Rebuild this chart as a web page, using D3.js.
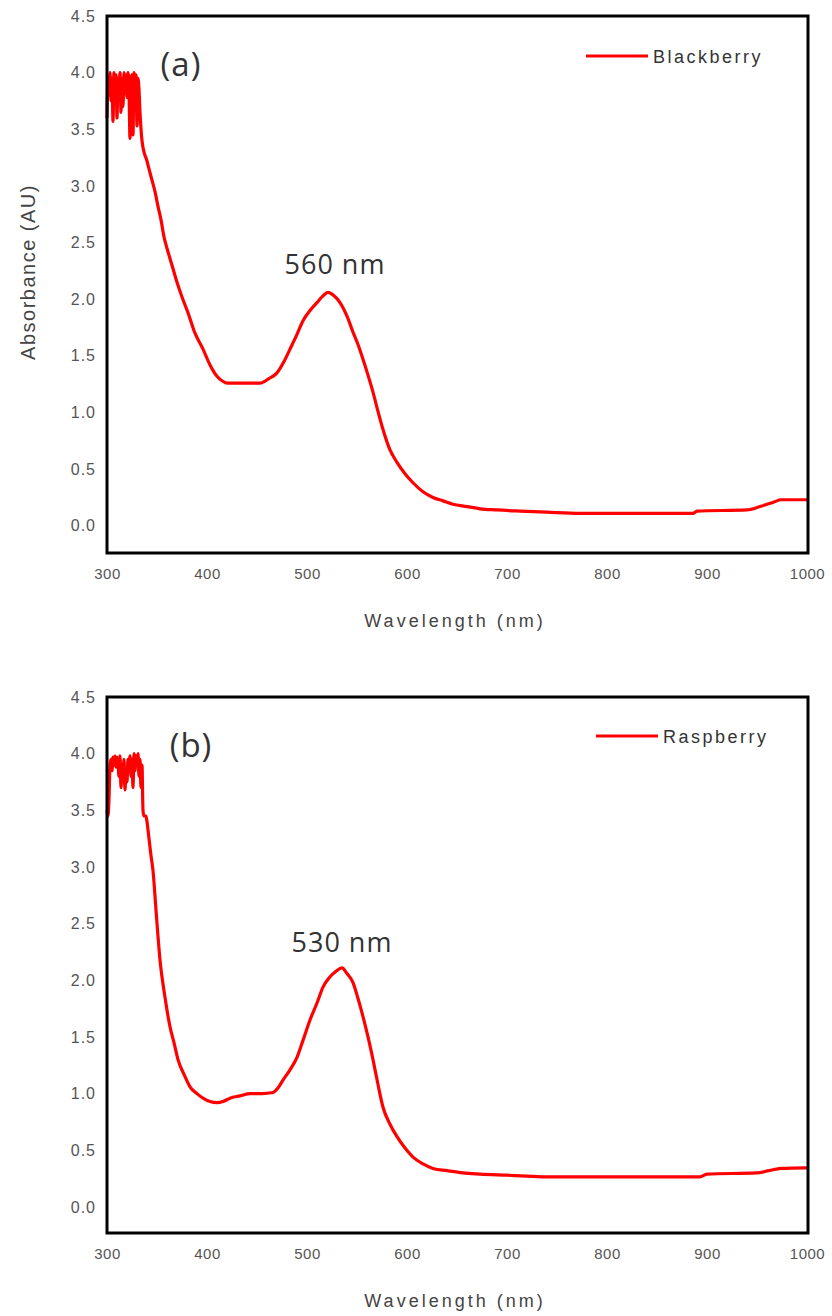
<!DOCTYPE html>
<html><head><meta charset="utf-8">
<script src="https://cdn.jsdelivr.net/npm/d3@7"></script>
<style>body{margin:0;background:#fff}</style>
</head><body>
<svg id="c" width="832" height="1316"></svg>
<script>
// ---- data ----
const xTicks = [300,400,500,600,700,800,900,1000];
const yTicks = [0.0,0.5,1.0,1.5,2.0,2.5,3.0,3.5,4.0,4.5];

const blackberryWl = [300,301,302,303,304,305,306,307,308,309,310,311,312,313,314,315,316,317,318,319,320,321,322,323,324,325,326,327,328,329,330,331,332,333,335,337,340,342,345,348,351,354,357,360,365,370,375,381,388,396,403,410,415,420,440,453,462,470,477,483,490,496,503,510,516,521,527,533,540,546,551,556,561,566,571,576,583,590,598,606,616,626,636,646,660,673,690,713,740,773,800,850,886,890,940,953,967,974,1000];
const blackberryAbs = [3.6,3.95,3.8,4.0,3.75,3.95,3.57,4.0,3.8,3.98,3.6,3.95,3.8,4.0,3.65,3.95,3.7,4.0,3.82,3.98,3.78,4.0,3.85,3.42,3.95,3.98,3.45,4.0,3.85,3.98,3.53,3.95,3.85,3.65,3.4,3.3,3.22,3.15,3.05,2.95,2.82,2.7,2.55,2.45,2.3,2.15,2.02,1.88,1.7,1.56,1.42,1.32,1.28,1.26,1.26,1.26,1.3,1.35,1.45,1.56,1.69,1.81,1.9,1.97,2.03,2.06,2.03,1.97,1.85,1.71,1.6,1.47,1.33,1.18,1.01,0.85,0.67,0.56,0.46,0.38,0.3,0.25,0.22,0.19,0.17,0.15,0.14,0.13,0.12,0.11,0.11,0.11,0.11,0.13,0.14,0.17,0.21,0.23,0.23];

const raspberryWl = [300,301,302,303,304,305,306,307,308,309,310,311,312,313,314,315,316,317,318,319,320,321,322,323,324,325,326,327,328,329,330,331,332,333,334,335,336,337,339,340,342,344,346,349,353,358,363,367,371,377,383,390,396,403,410,416,423,433,443,455,466,471,476,483,490,496,503,510,516,522,529,535,540,546,551,556,561,566,571,576,583,590,598,606,616,626,640,656,673,700,726,740,800,893,900,950,962,974,1000];
const raspberryAbs = [3.5,3.45,3.6,3.9,3.95,3.85,3.97,3.9,3.98,3.88,3.97,3.92,3.8,3.98,3.7,3.9,3.75,3.95,3.68,3.85,3.75,3.95,3.85,3.98,3.8,3.95,3.7,4.0,3.85,3.98,3.9,4.0,3.8,3.95,3.7,3.9,3.5,3.45,3.45,3.4,3.25,3.1,2.97,2.62,2.18,1.85,1.59,1.45,1.3,1.17,1.06,1.0,0.96,0.93,0.92,0.93,0.96,0.98,1.0,1.0,1.01,1.05,1.12,1.21,1.32,1.47,1.65,1.8,1.94,2.02,2.08,2.11,2.06,1.98,1.84,1.68,1.5,1.3,1.08,0.88,0.73,0.62,0.52,0.44,0.38,0.34,0.32,0.3,0.29,0.28,0.27,0.265,0.265,0.265,0.29,0.3,0.32,0.34,0.345];

const panels = [
  {wl: blackberryWl, abs: blackberryAbs, name: "Blackberry", tag: "(a)", peak: "560 nm",
   top: 16, bottom: 553, yMin: -0.24, tagX: 181, tagY: 76, peakX: 335, peakY: 274, legX: 586, legY: 56},
  {wl: raspberryWl, abs: raspberryAbs, name: "Raspberry", tag: "(b)", peak: "530 nm",
   top: 697, bottom: 1233, yMin: -0.23, tagX: 191, tagY: 757, peakX: 342, peakY: 952, legX: 596, legY: 736}
];

const svg = d3.select("#c");
const left = 107, right = 807;
const sans = "Liberation Sans, Arial, sans-serif";

panels.forEach(p => {
  const x = d3.scaleLinear().domain([300,1000]).range([left,right]);
  const y = d3.scaleLinear().domain([p.yMin,4.5]).range([p.bottom,p.top]);
  const g = svg.append("g");

  // x tick labels
  const xa = g.append("g").attr("transform",`translate(0,${p.bottom})`)
    .call(d3.axisBottom(x).tickValues(xTicks).tickSize(0).tickPadding(15).tickFormat(d3.format("d")));
  xa.select(".domain").remove();
  xa.selectAll("text").attr("font-family",sans).attr("font-size",15)
    .attr("fill","#555").attr("letter-spacing","0.5px");

  // y tick labels
  const ya = g.append("g").attr("transform",`translate(${left},0)`)
    .call(d3.axisLeft(y).tickValues(yTicks).tickSize(0).tickPadding(11).tickFormat(d3.format(".1f")));
  ya.select(".domain").remove();
  ya.selectAll("text").attr("font-family",sans).attr("font-size",16)
    .attr("fill","#555").attr("letter-spacing","1px");

  // curve
  const line = d3.line().x((d,i)=>x(p.wl[i])).y((d,i)=>y(p.abs[i])).curve(d3.curveMonotoneX);
  g.append("path").datum(p.abs).attr("d",line).attr("fill","none")
    .attr("stroke","#ff0000").attr("stroke-width",3.2).attr("stroke-linejoin","round");

  // frame
  g.append("rect").attr("x",left).attr("y",p.top).attr("width",right+1-left).attr("height",p.bottom-p.top)
    .attr("fill","none").attr("stroke","#000").attr("stroke-width",3);

  // x title
  g.append("text").attr("x",455).attr("y",p.bottom+74).attr("text-anchor","middle")
    .attr("font-family",sans).attr("font-size",18)
    .attr("letter-spacing","3px").attr("fill","#444").text("Wavelength (nm)");

  // panel tag and peak label
  g.append("text").attr("x",p.tagX).attr("y",p.tagY).attr("text-anchor","middle")
    .attr("font-family","Open Sans, sans-serif").attr("font-size",33).attr("letter-spacing","1px").attr("fill","#333").text(p.tag);
  g.append("text").attr("x",p.peakX).attr("y",p.peakY).attr("text-anchor","middle")
    .attr("font-family","Open Sans, sans-serif").attr("font-size",27).attr("letter-spacing","1px").attr("fill","#333").text(p.peak);

  // legend
  g.append("line").attr("x1",p.legX).attr("x2",p.legX+62).attr("y1",p.legY).attr("y2",p.legY)
    .attr("stroke","#ff0000").attr("stroke-width",3.2);
  g.append("text").attr("x",p.legX+67).attr("y",p.legY+7)
    .attr("font-family",sans).attr("font-size",18)
    .attr("letter-spacing","2.5px").attr("fill","#333").text(p.name);
});

// y axis title (top panel only)
svg.append("text").attr("transform","translate(35,272) rotate(-90)").attr("text-anchor","middle")
  .attr("font-family",sans).attr("font-size",20)
  .attr("letter-spacing","1.5px").attr("fill","#444").text("Absorbance (AU)");
</script>
</body></html>
